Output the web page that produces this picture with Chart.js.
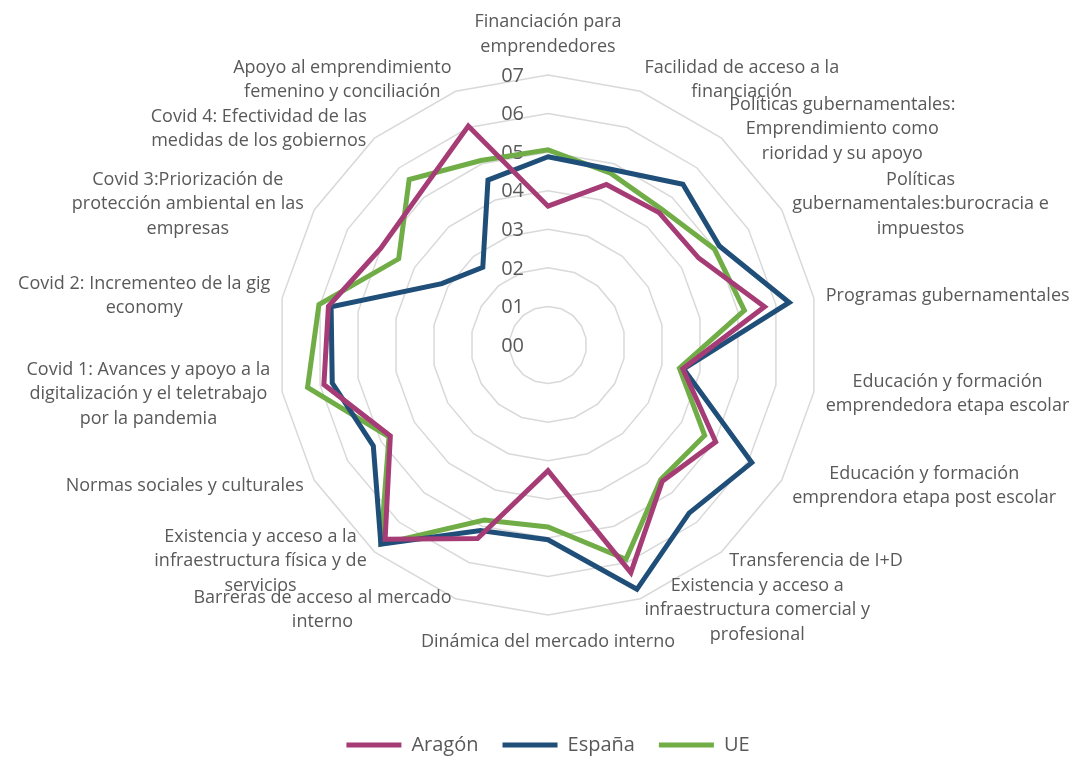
<!DOCTYPE html>
<html>
<head>
<meta charset="utf-8">
<script src="https://cdn.jsdelivr.net/npm/chart.js@4.4.1/dist/chart.umd.min.js"></script>
<style>
  html, body { margin: 0; padding: 0; background: #ffffff; }
  #wrap { width: 1078px; height: 758px; }
</style>
</head>
<body>
<div id="wrap"><canvas id="c" width="1078" height="758"></canvas></div>
<script>
const categories = [
  ["Financiación para", "emprendedores"],
  ["Facilidad de acceso a la", "financiación"],
  ["Políticas gubernamentales:", "Emprendimiento como", "rioridad y su apoyo"],
  ["Políticas", "gubernamentales:burocracia e", "impuestos"],
  ["Programas gubernamentales"],
  ["Educación y formación", "emprendedora etapa escolar"],
  ["Educación y formación", "emprendora etapa post escolar"],
  ["Transferencia de I+D"],
  ["Existencia y acceso a", "infraestructura comercial y", "profesional"],
  ["Dinámica del mercado interno"],
  ["Barreras de acceso al mercado", "interno"],
  ["Existencia y acceso a la", "infraestructura física y de", "servicios"],
  ["Normas sociales y culturales"],
  ["Covid 1: Avances y apoyo a la", "digitalización y el teletrabajo", "por la pandemia"],
  ["Covid 2: Incrementeo de la gig", "economy"],
  ["Covid 3:Priorización de", "protección ambiental en las", "empresas"],
  ["Covid 4: Efectividad de las", "medidas de los gobiernos"],
  ["Apoyo al emprendimiento", "femenino y conciliación"]
];

const aragon = [3.60, 4.43, 4.48, 4.51, 5.70, 3.55, 5.02, 4.61, 6.28, 3.26, 5.34, 6.57, 4.72, 5.90, 5.78, 5.01, 5.15, 6.04];
const espana = [4.88, 4.84, 5.44, 5.13, 6.35, 3.57, 6.10, 5.69, 6.74, 5.05, 5.12, 6.74, 5.23, 5.68, 5.71, 3.18, 2.63, 4.55];
const ue     = [5.06, 4.74, 4.59, 4.98, 5.17, 3.46, 4.69, 4.55, 5.91, 4.72, 4.83, 6.74, 4.76, 6.33, 6.03, 4.47, 5.60, 5.09];

const tickLabels = ["00", "01", "02", "03", "04", "05", "06", "07"];
const seriesNames = ["Aragón", "España", "UE"];
const seriesColors = ["#A63C75", "#1F4E79", "#70AD47"];

const FONT = "'Open Sans', 'Noto Sans', sans-serif";
const TEXT = "#595959";

const tickLabelPlugin = {
  id: "leftTickLabels",
  beforeDatasetsDraw(chart) {
    const s = chart.scales.r;
    const ctx = chart.ctx;
    ctx.save();
    ctx.font = "20px " + FONT;
    ctx.fillStyle = TEXT;
    ctx.textAlign = "right";
    ctx.textBaseline = "middle";
    s.ticks.forEach((t, i) => {
      const d = s.getDistanceFromCenterForValue(t.value);
      ctx.fillText(tickLabels[i], s.xCenter - 24, s.yCenter - d + 1);
    });
    ctx.restore();
  }
};

const pointLabelPlugin = {
  id: "excelPointLabels",
  afterDraw(chart) {
    const s = chart.scales.r;
    const ctx = chart.ctx;
    const lh = 24.5;
    ctx.save();
    ctx.font = "18px " + FONT;
    ctx.fillStyle = TEXT;
    ctx.textAlign = "center";
    ctx.textBaseline = "middle";
    chart.data.labels.forEach((lab, i) => {
      const lines = Array.isArray(lab) ? lab : [lab];
      const p = s.getPointPosition(i, s.drawingArea + 12);
      let deg = (s.getIndexAngle(i) * 180 / Math.PI) % 360;
      if (deg < 0) deg += 360;
      const w = Math.max(...lines.map(l => ctx.measureText(l).width));
      const h = lines.length * lh;
      let cx, top;
      if (deg < 1 || deg > 359) { cx = p.x; top = p.y - 4 - h; }
      else if (Math.abs(deg - 180) < 1) { cx = p.x; top = p.y + 3; }
      else if (deg < 180) { cx = p.x + w / 2; top = p.y - h / 2; }
      else { cx = p.x - w / 2; top = p.y - h / 2; }
      lines.forEach((l, k) => ctx.fillText(l, cx, top + lh * (k + 0.5)));
    });
    ctx.restore();
  }
};

function makeDataset(name, values, color) {
  return {
    label: name,
    data: values,
    borderColor: color,
    backgroundColor: color,
    borderWidth: 5,
    pointRadius: 0,
    pointHoverRadius: 0,
    fill: false,
    tension: 0,
    borderJoinStyle: "miter",
    borderCapStyle: "round"
  };
}

Chart.defaults.font.family = FONT;

new Chart(document.getElementById("c"), {
  type: "radar",
  data: {
    labels: categories,
    datasets: [
      makeDataset(seriesNames[0], aragon, seriesColors[0]),
      makeDataset(seriesNames[1], espana, seriesColors[1]),
      makeDataset(seriesNames[2], ue, seriesColors[2])
    ]
  },
  options: {
    responsive: false,
    animation: false,
    devicePixelRatio: 1,
    layout: { padding: { left: 278, right: 260, top: 0, bottom: -7 } },
    plugins: {
      legend: {
        position: "bottom",
        title: { display: true, text: " ", font: { size: 10 }, padding: { top: 9, bottom: 0 } },
        labels: {
          usePointStyle: true,
          pointStyle: "line",
          pointStyleWidth: 55,
          font: { family: FONT, size: 20 },
          color: TEXT,
          padding: 24
        }
      },
      tooltip: { enabled: false }
    },
    scales: {
      r: {
        min: 0,
        max: 7,
        ticks: { stepSize: 1, display: false },
        grid: { color: "#D9D9D9", lineWidth: 1.5, circular: false },
        angleLines: { display: false },
        pointLabels: { display: false }
      }
    }
  },
  plugins: [tickLabelPlugin, pointLabelPlugin]
});
</script>
</body>
</html>
